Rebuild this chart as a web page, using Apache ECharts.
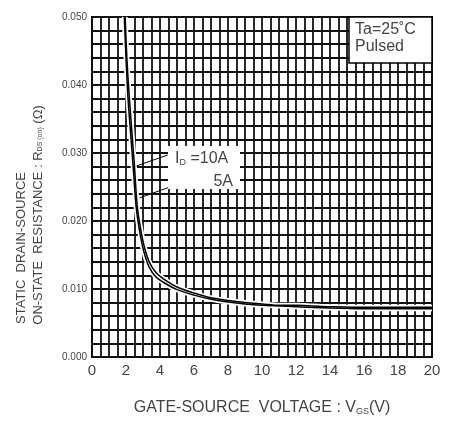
<!DOCTYPE html>
<html>
<head>
<meta charset="utf-8">
<script src="https://cdn.jsdelivr.net/npm/echarts@6/dist/echarts.min.js"></script>
<style>
  html, body { margin: 0; padding: 0; background: #fff; }
  #chart { width: 455px; height: 421px; }
</style>
</head>
<body>
<div id="chart"></div>
<script>
// RDS(on) vs VGS
const vgs10A = [1.95, 2.05, 2.2, 2.35, 2.5, 2.65, 2.85, 3.1, 3.4, 3.8, 4.2, 5, 6, 7, 8, 9, 10, 11, 12, 13, 14, 16, 18, 20];
const rds10A = [0.050, 0.044, 0.038, 0.033, 0.028, 0.0225, 0.019, 0.016, 0.0138, 0.0123, 0.0115, 0.0103, 0.0094, 0.0087, 0.0083, 0.0080, 0.0078, 0.0076, 0.0076, 0.0075, 0.0074, 0.0073, 0.0073, 0.0073];
const vgs5A = [1.9, 2.0, 2.12, 2.3, 2.45, 2.6, 2.8, 3.05, 3.35, 3.75, 4.2, 5, 6, 7, 8, 9, 10, 11, 12, 14, 16, 18, 20];
const rds5A = [0.050, 0.044, 0.038, 0.032, 0.027, 0.022, 0.0185, 0.0155, 0.0133, 0.0118, 0.0110, 0.0099, 0.0091, 0.0085, 0.0081, 0.0078, 0.0076, 0.0075, 0.0074, 0.0072, 0.0071, 0.0071, 0.0071];
// leader lines from the label box to each curve [vgs, rds]
const lead10A = [[4.45, 0.0297], [2.62, 0.0281]];
const lead5A = [[4.7, 0.0251], [2.8, 0.0234]];

const FONT = "'Liberation Sans', Arial, sans-serif";
const TXT = '#444';

function pairs(xs, ys) {
  return xs.map(function (x, i) { return [x, ys[i]]; });
}

function curve(data, color, width, z) {
  return {
    type: 'line',
    data: data,
    smooth: 0.3,
    symbol: 'none',
    silent: true,
    z: z,
    lineStyle: { color: color, width: width }
  };
}

var chart = echarts.init(document.getElementById('chart'));
var gridLine = { lineStyle: { color: '#111', width: 1.8 } };

var line10 = curve(pairs(vgs10A, rds10A), '#000', 1.5, 4);
line10.markLine = {
  silent: true,
  symbol: 'none',
  label: { show: false },
  lineStyle: { color: '#000', width: 1, type: 'solid' },
  data: [
    [{ coord: lead10A[0] }, { coord: lead10A[1] }],
    [{ coord: lead5A[0] }, { coord: lead5A[1] }]
  ]
};

chart.setOption({
  animation: false,
  grid: {
    left: 92, top: 17, width: 340, height: 342,
    show: true, borderColor: '#000', borderWidth: 2, backgroundColor: '#fff'
  },
  xAxis: {
    type: 'value', min: 0, max: 20, interval: 2,
    name: 'GATE-SOURCE  VOLTAGE : V{sub|GS}(V)',
    nameLocation: 'middle', nameGap: 43,
    nameTextStyle: {
      color: TXT, fontFamily: FONT, fontSize: 16,
      rich: { sub: { fontSize: 9, color: TXT, fontFamily: FONT, padding: [7, 0, 0, 0] } }
    },
    axisLine: { show: false },
    axisTick: { show: false },
    axisLabel: { color: TXT, fontFamily: FONT, fontSize: 15, margin: 6 },
    splitLine: gridLine,
    minorTick: { show: false, splitNumber: 4 },
    minorSplitLine: { show: true, lineStyle: { color: '#111', width: 1.8 } }
  },
  yAxis: {
    type: 'value', min: 0, max: 0.05, interval: 0.01,
    axisLine: { show: false },
    axisTick: { show: false },
    axisLabel: {
      color: TXT, fontFamily: FONT, fontSize: 10, margin: 5,
      formatter: function (v) { return v.toFixed(3); }
    },
    splitLine: gridLine,
    minorTick: { show: false, splitNumber: 5 },
    minorSplitLine: { show: true, lineStyle: { color: '#111', width: 1.8 } }
  },
  series: [
    curve(pairs(vgs10A, rds10A), '#fff', 5, 2),
    curve(pairs(vgs5A, rds5A), '#fff', 5, 2),
    line10,
    curve(pairs(vgs5A, rds5A), '#000', 1.5, 4)
  ],
  graphic: [
    // Ta / Pulsed box
    { type: 'rect', z: 100, shape: { x: 349, y: 17, width: 83, height: 46 },
      style: { fill: '#fff', stroke: '#000', lineWidth: 1.5 } },
    { type: 'text', z: 101, x: 355, y: 22,
      style: { text: 'Ta=25˚C', fill: TXT, font: '16px ' + FONT } },
    { type: 'text', z: 101, x: 355, y: 39,
      style: { text: 'Pulsed', fill: TXT, font: '16px ' + FONT } },
    // ID label box
    { type: 'rect', z: 100, shape: { x: 168, y: 146, width: 72, height: 43 },
      style: { fill: '#fff' } },
    { type: 'text', z: 101, x: 175, y: 151,
      style: {
        text: 'I{sub|D} =10A', fill: TXT, font: '16px ' + FONT,
        rich: { sub: { fontSize: 9, fill: TXT, fontFamily: FONT, padding: [7, 0, 0, 0] } }
      } },
    { type: 'text', z: 101, x: 233, y: 174,
      style: { text: '5A', fill: TXT, font: '16px ' + FONT, align: 'right' } },
    // y axis title, two rotated lines
    { type: 'text', z: 101, x: 21, y: 248, rotation: Math.PI / 2,
      style: { text: 'STATIC  DRAIN-SOURCE', fill: TXT, font: '13px ' + FONT,
        align: 'center', verticalAlign: 'middle' } },
    { type: 'text', z: 101, x: 38, y: 215, rotation: Math.PI / 2,
      style: {
        text: 'ON-STATE  RESISTANCE : R{sub|DS (on)} (Ω)', fill: TXT, font: '13px ' + FONT,
        align: 'center', verticalAlign: 'middle',
        rich: { sub: { fontSize: 7, fill: TXT, fontFamily: FONT, padding: [5, 0, 0, 0] } }
      } }
  ]
});
</script>
</body>
</html>
